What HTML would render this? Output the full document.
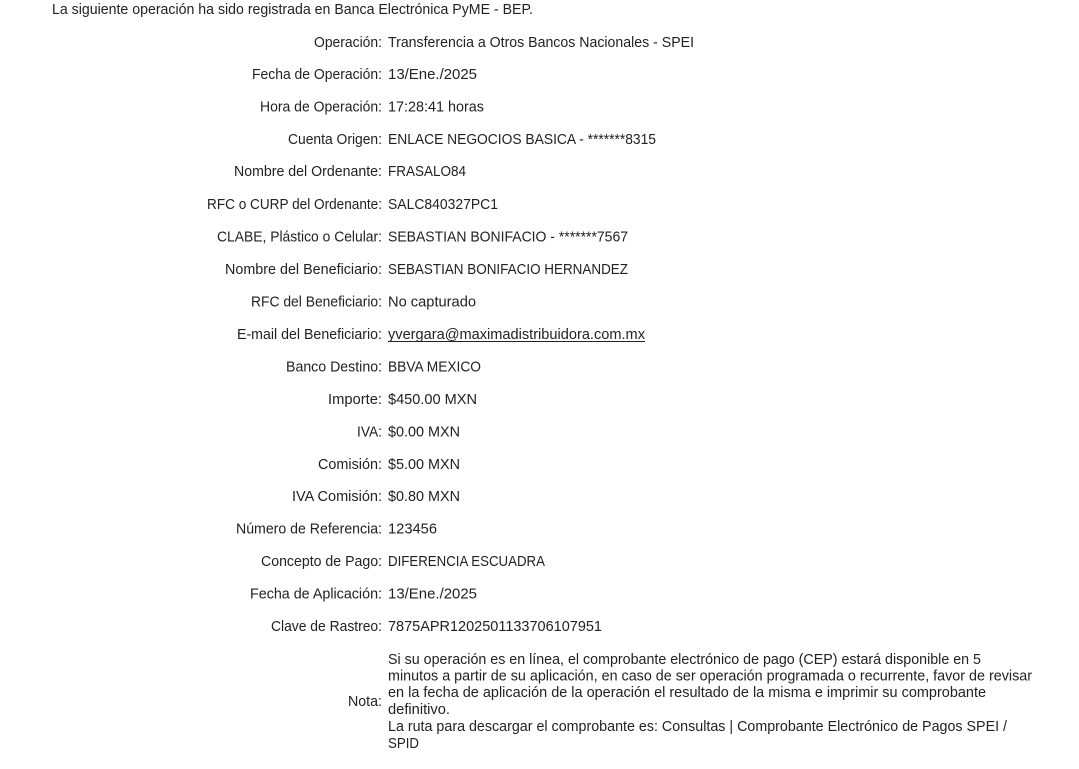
<!DOCTYPE html>
<html><head><meta charset="utf-8"><style>
html,body{margin:0;padding:0;background:#fff;width:1079px;height:769px;overflow:hidden}
svg{display:block}
text{font-family:"Liberation Sans",Arial,sans-serif;font-size:15px;fill:#222}
.n{font-size:14.5px}
</style></head><body>
<svg width="1079" height="769" viewBox="0 0 1079 769" xmlns="http://www.w3.org/2000/svg">
<text x="52" y="14" textLength="481" lengthAdjust="spacingAndGlyphs">La siguiente operación ha sido registrada en Banca Electrónica PyME - BEP.</text>

<g>
<text x="314" y="47" textLength="68" lengthAdjust="spacingAndGlyphs">Operación:</text>
<text x="388" y="47" textLength="306" lengthAdjust="spacingAndGlyphs">Transferencia a Otros Bancos Nacionales - SPEI</text>

<text x="252" y="79" textLength="130" lengthAdjust="spacingAndGlyphs">Fecha de Operación:</text>
<text x="388" y="79" textLength="89" lengthAdjust="spacingAndGlyphs">13/Ene./2025</text>

<text x="260" y="111.5" textLength="122" lengthAdjust="spacingAndGlyphs">Hora de Operación:</text>
<text x="388" y="111.5" textLength="96" lengthAdjust="spacingAndGlyphs">17:28:41 horas</text>

<text x="288" y="144" textLength="94" lengthAdjust="spacingAndGlyphs">Cuenta Origen:</text>
<text x="388" y="144" textLength="268" lengthAdjust="spacingAndGlyphs">ENLACE NEGOCIOS BASICA - *******8315</text>

<text x="234" y="176" textLength="148" lengthAdjust="spacingAndGlyphs">Nombre del Ordenante:</text>
<text x="388" y="176" textLength="78" lengthAdjust="spacingAndGlyphs">FRASALO84</text>

<text x="207" y="209" textLength="175" lengthAdjust="spacingAndGlyphs">RFC o CURP del Ordenante:</text>
<text x="388" y="209" textLength="110" lengthAdjust="spacingAndGlyphs">SALC840327PC1</text>

<text x="217" y="241.5" textLength="165" lengthAdjust="spacingAndGlyphs">CLABE, Plástico o Celular:</text>
<text x="388" y="241.5" textLength="240" lengthAdjust="spacingAndGlyphs">SEBASTIAN BONIFACIO - *******7567</text>

<text x="225" y="274" textLength="157" lengthAdjust="spacingAndGlyphs">Nombre del Beneficiario:</text>
<text x="388" y="274" textLength="240" lengthAdjust="spacingAndGlyphs">SEBASTIAN BONIFACIO HERNANDEZ</text>

<text x="251" y="306.5" textLength="131" lengthAdjust="spacingAndGlyphs">RFC del Beneficiario:</text>
<text x="388" y="306.5" textLength="88" lengthAdjust="spacingAndGlyphs">No capturado</text>

<text x="237" y="339" textLength="145" lengthAdjust="spacingAndGlyphs">E-mail del Beneficiario:</text>
<text x="388" y="339" textLength="257" lengthAdjust="spacingAndGlyphs">yvergara@maximadistribuidora.com.mx</text>
<line x1="388" y1="341.5" x2="645" y2="341.5" stroke="#222" stroke-width="1"/>

<text x="286" y="371.5" textLength="96" lengthAdjust="spacingAndGlyphs">Banco Destino:</text>
<text x="388" y="371.5" textLength="93" lengthAdjust="spacingAndGlyphs">BBVA MEXICO</text>

<text x="328" y="404" textLength="54" lengthAdjust="spacingAndGlyphs">Importe:</text>
<text x="388" y="404" textLength="89" lengthAdjust="spacingAndGlyphs">$450.00 MXN</text>

<text x="357" y="436.5" textLength="25" lengthAdjust="spacingAndGlyphs">IVA:</text>
<text x="388" y="436.5" textLength="72" lengthAdjust="spacingAndGlyphs">$0.00 MXN</text>

<text x="318" y="469" textLength="64" lengthAdjust="spacingAndGlyphs">Comisión:</text>
<text x="388" y="469" textLength="72" lengthAdjust="spacingAndGlyphs">$5.00 MXN</text>

<text x="292" y="501" textLength="90" lengthAdjust="spacingAndGlyphs">IVA Comisión:</text>
<text x="388" y="501" textLength="72" lengthAdjust="spacingAndGlyphs">$0.80 MXN</text>

<text x="236" y="533.5" textLength="146" lengthAdjust="spacingAndGlyphs">Número de Referencia:</text>
<text x="388" y="533.5" textLength="49" lengthAdjust="spacingAndGlyphs">123456</text>

<text x="261" y="566" textLength="121" lengthAdjust="spacingAndGlyphs">Concepto de Pago:</text>
<text x="388" y="566" textLength="157" lengthAdjust="spacingAndGlyphs">DIFERENCIA ESCUADRA</text>

<text x="250" y="598.5" textLength="132" lengthAdjust="spacingAndGlyphs">Fecha de Aplicación:</text>
<text x="388" y="598.5" textLength="89" lengthAdjust="spacingAndGlyphs">13/Ene./2025</text>

<text x="271" y="631" textLength="111" lengthAdjust="spacingAndGlyphs">Clave de Rastreo:</text>
<text x="388" y="631" textLength="214" lengthAdjust="spacingAndGlyphs">7875APR1202501133706107951</text>

<text x="348" y="706" textLength="34" lengthAdjust="spacingAndGlyphs">Nota:</text>
<text class="n" x="388" y="664" textLength="593" lengthAdjust="spacingAndGlyphs">Si su operación es en línea, el comprobante electrónico de pago (CEP) estará disponible en 5</text>
<text class="n" x="388" y="680.5" textLength="644" lengthAdjust="spacingAndGlyphs">minutos a partir de su aplicación, en caso de ser operación programada o recurrente, favor de revisar</text>
<text class="n" x="388" y="697" textLength="598" lengthAdjust="spacingAndGlyphs">en la fecha de aplicación de la operación el resultado de la misma e imprimir su comprobante</text>
<text class="n" x="388" y="714" textLength="62" lengthAdjust="spacingAndGlyphs">definitivo.</text>
<text class="n" x="388" y="731" textLength="619" lengthAdjust="spacingAndGlyphs">La ruta para descargar el comprobante es: Consultas | Comprobante Electrónico de Pagos SPEI /</text>
<text class="n" x="388" y="748" textLength="31" lengthAdjust="spacingAndGlyphs">SPID</text>
</g>
</svg>
</body></html>
